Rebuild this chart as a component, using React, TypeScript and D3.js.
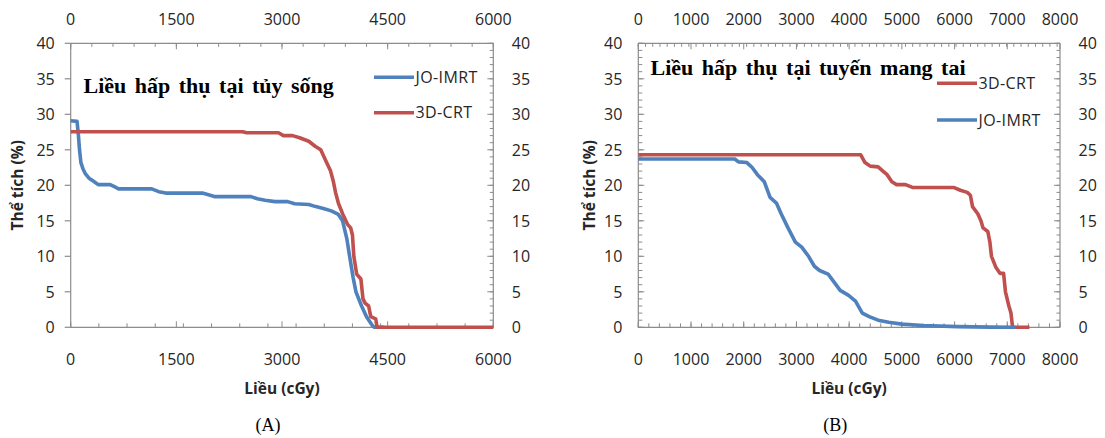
import React from 'react';
import * as d3 from 'd3';

// ---------- DATA ----------
// Panel A: spinal cord (Liều hấp thụ tại tủy sống), dose cGy vs volume %
const imrtA: [number, number][] = [
  [0, 29.1], [90, 29.0], [110, 27], [125, 25], [145, 23.2], [175, 22.3], [210, 21.6], [260, 21.0],
  [320, 20.6], [390, 20.1], [560, 20.1], [620, 19.8], [680, 19.5], [1150, 19.5], [1250, 19.1],
  [1350, 18.9], [1870, 18.9], [1980, 18.6], [2050, 18.4], [2560, 18.4], [2650, 18.1], [2760, 17.9],
  [2900, 17.7], [3080, 17.7], [3180, 17.4], [3380, 17.3], [3480, 17.0], [3600, 16.7], [3700, 16.4],
  [3800, 15.9], [3860, 15.0], [3920, 12.5], [3960, 10.0], [4010, 7.0], [4050, 5.0], [4130, 3.0],
  [4200, 1.5], [4280, 0.3], [4310, 0], [4450, 0],
];
const crtA: [number, number][] = [
  [0, 27.55], [2440, 27.55], [2500, 27.4], [2950, 27.4], [3020, 27.0], [3150, 27.0], [3250, 26.7],
  [3380, 26.2], [3470, 25.5], [3550, 25.0], [3620, 23.5], [3690, 22.0], [3730, 20.5], [3760, 19.0],
  [3800, 17.5], [3860, 16.0], [3930, 14.5], [3975, 14.0], [4000, 13.0], [4020, 10.0], [4060, 7.5],
  [4120, 6.8], [4150, 4.0], [4180, 3.4], [4230, 3.0], [4260, 1.5], [4330, 1.2], [4350, 0], [6000, 0],
];
// Panel B: parotid gland (Liều hấp thụ tại tuyến mang tai)
const crtB: [number, number][] = [
  [0, 24.3], [4220, 24.3], [4300, 23.2], [4400, 22.7], [4550, 22.6], [4640, 22.0], [4720, 21.5],
  [4810, 20.5], [4900, 20.1], [5070, 20.1], [5200, 19.7], [5980, 19.7], [6110, 19.3], [6240, 19.0],
  [6300, 18.6], [6340, 17.0], [6440, 16.0], [6500, 15.0], [6540, 14.0], [6630, 13.5], [6670, 12.0],
  [6700, 10.0], [6780, 8.5], [6860, 7.6], [6930, 7.6], [6965, 5.0], [7030, 3.0], [7070, 2.0],
  [7100, 0], [7420, 0],
];
const imrtB: [number, number][] = [
  [0, 23.7], [1830, 23.7], [1900, 23.3], [2060, 23.2], [2160, 22.5], [2260, 21.5], [2390, 20.5],
  [2440, 19.5], [2500, 18.3], [2620, 17.5], [2710, 16.0], [2840, 14.0], [2980, 12.0], [3100, 11.3],
  [3230, 10.0], [3340, 8.6], [3440, 8.0], [3600, 7.5], [3700, 6.5], [3830, 5.2], [3990, 4.5],
  [4120, 3.7], [4250, 2.0], [4380, 1.5], [4550, 1.0], [4750, 0.7], [5000, 0.45], [5400, 0.25],
  [6050, 0.1], [6700, 0.03], [7150, 0],
];

const xTicksA = [0, 1500, 3000, 4500, 6000];
const xTicksB = [0, 1000, 2000, 3000, 4000, 5000, 6000, 7000, 8000];
const yTicks = [0, 5, 10, 15, 20, 25, 30, 35, 40];

const titleA = 'Liều hấp thụ tại tủy sống';
const titleB = 'Liều hấp thụ tại tuyến mang tai';
const xTitle = 'Liều (cGy)';
const yTitle = 'Thể tích (%)';

const BLUE = '#4F81BD';
const RED = '#C0504D';
const AX = '#8c8c8c';
const TXT = '#262626';
const SANS = "'Open Sans', 'DejaVu Sans', sans-serif";
const SERIF = "'Liberation Serif', 'Times New Roman', serif";

type Series = { name: string; color: string; data: [number, number][] };

function Panel(props: {
  left: number; right: number; top: number; bottom: number;
  xMax: number; xTicks: number[]; xMajor: number;
  topMinor: number; bottomMinor: number; leftMinor: boolean;
  series: Series[]; title: string; titleX: number; titleY: number;
  legendX: number; legendY: number[]; caption: string; yTitleX: number;
}) {
  const { left, right, top, bottom, xMax, xTicks, xMajor, topMinor, bottomMinor, leftMinor, series } = props;
  const x = d3.scaleLinear().domain([0, xMax]).range([left, right]);
  const y = d3.scaleLinear().domain([0, 40]).range([bottom, top]);
  const line = d3.line<[number, number]>().x(d => x(d[0])).y(d => y(d[1]));
  const topMinorT = d3.range(0, xMax + 1e-6, topMinor);
  const botMinorT = d3.range(0, xMax + 1e-6, bottomMinor);
  const majorT = d3.range(0, xMax + 1e-6, xMajor);
  const yMinorT = d3.range(0, 40.001, 1);
  const fs = 16;
  const cx = (left + right) / 2;
  const cy = (top + bottom) / 2;
  return (
    <g>
      {/* frame */}
      <line x1={left} x2={right} y1={top} y2={top} stroke={AX} strokeWidth={1.2} />
      <line x1={left} x2={right} y1={bottom} y2={bottom} stroke={AX} strokeWidth={1.2} />
      <line x1={left} x2={left} y1={top} y2={bottom + 0.6} stroke={AX} strokeWidth={1.2} />
      <line x1={right} x2={right} y1={top} y2={bottom} stroke={AX} strokeWidth={1.2} />
      {/* top ticks */}
      {topMinorT.map((t, i) => (
        <line key={'tm' + i} x1={x(t)} x2={x(t)} y1={top} y2={top + 3.5} stroke={AX} strokeWidth={1} />
      ))}
      {majorT.map((t, i) => (
        <line key={'tM' + i} x1={x(t)} x2={x(t)} y1={top} y2={top + 6} stroke={AX} strokeWidth={1} />
      ))}
      {/* bottom ticks */}
      {botMinorT.map((t, i) => (
        <line key={'bm' + i} x1={x(t)} x2={x(t)} y1={bottom} y2={bottom - 4} stroke={AX} strokeWidth={1} />
      ))}
      {majorT.map((t, i) => (
        <line key={'bM' + i} x1={x(t)} x2={x(t)} y1={bottom} y2={bottom - 6} stroke={AX} strokeWidth={1} />
      ))}
      {/* left ticks */}
      {leftMinor && yMinorT.map((t, i) => (
        <line key={'lm' + i} x1={left} x2={left + 4} y1={y(t)} y2={y(t)} stroke={AX} strokeWidth={1} />
      ))}
      {yTicks.map((t, i) => (
        leftMinor
          ? <line key={'lM' + i} x1={left} x2={left + 6} y1={y(t)} y2={y(t)} stroke={AX} strokeWidth={1} />
          : <line key={'lM' + i} x1={left - 6} x2={left} y1={y(t)} y2={y(t)} stroke={AX} strokeWidth={1.2} />
      ))}
      {/* right ticks */}
      {yMinorT.map((t, i) => (
        <line key={'rm' + i} x1={right - 3.5} x2={right} y1={y(t)} y2={y(t)} stroke={AX} strokeWidth={1} />
      ))}
      {yTicks.map((t, i) => (
        <line key={'rM' + i} x1={right - 6} x2={right} y1={y(t)} y2={y(t)} stroke={AX} strokeWidth={1} />
      ))}
      {/* series */}
      {series.map(s => (
        <path key={s.name} d={line(s.data) || ''} fill="none" stroke={s.color} strokeWidth={3.6}
          strokeLinejoin="round" strokeLinecap="butt" />
      ))}
      {/* tick labels */}
      <g fontFamily={SANS} fontSize={fs} fill={TXT}>
        {xTicks.map(t => (
          <text key={'xt' + t} x={x(t)} y={24.8} textAnchor="middle">{t}</text>
        ))}
        {xTicks.map(t => (
          <text key={'xb' + t} x={x(t)} y={364.6} textAnchor="middle">{t}</text>
        ))}
        {yTicks.map(t => (
          <text key={'yl' + t} x={left - 16} y={y(t) + 5.7} textAnchor="end">{t}</text>
        ))}
        {yTicks.map(t => (
          <text key={'yr' + t} x={right + 18.5} y={y(t) + 5.7} textAnchor="start">{t}</text>
        ))}
      </g>
      {/* axis titles */}
      <text x={cx} y={394} textAnchor="middle" fontFamily={SANS} fontWeight="bold" fontSize={15.5} fill={TXT}>{xTitle}</text>
      <text transform={`translate(${props.yTitleX},${cy}) rotate(-90)`} textAnchor="middle" fontFamily={SANS}
        fontWeight="bold" fontSize={15.5} fill={TXT}>{yTitle}</text>
      {/* chart title */}
      <text x={props.titleX} y={props.titleY} fontFamily={SERIF} fontWeight="bold" fontSize={22}
        wordSpacing={3} fill="#000">{props.title}</text>
      {/* legend */}
      {series.map((s, i) => (
        <g key={'lg' + s.name}>
          <line x1={props.legendX} x2={props.legendX + 40} y1={props.legendY[i]} y2={props.legendY[i]}
            stroke={s.color} strokeWidth={3.6} />
          <text x={props.legendX + 41.5} y={props.legendY[i] + 5.6} fontFamily={SANS} fontSize={16}
            letterSpacing={0.4} fill={TXT}>{s.name}</text>
        </g>
      ))}
      {/* caption */}
      <text x={cx - 14} y={431} textAnchor="middle" fontFamily={SERIF} fontSize={18} fill="#000">{props.caption}</text>
    </g>
  );
}

export default function App() {
  const seriesA: Series[] = [
    { name: 'JO-IMRT', color: BLUE, data: imrtA },
    { name: '3D-CRT', color: RED, data: crtA },
  ];
  const seriesB: Series[] = [
    { name: '3D-CRT', color: RED, data: crtB },
    { name: 'JO-IMRT', color: BLUE, data: imrtB },
  ];
  return (
    <svg width={1105} height={438} style={{ position: 'absolute', left: 0, top: 0, background: '#fff' }}>
      <rect width={1105} height={438} fill="#fff" />
      <Panel left={70.7} right={493.3} top={43.3} bottom={327.3} xMax={6000} xTicks={xTicksA} xMajor={1500}
        topMinor={300} bottomMinor={400} leftMinor={false} series={seriesA} title={titleA}
        titleX={83.5} titleY={93} legendX={374} legendY={[77.3, 112.7]} caption="(A)" yTitleX={22.5} />
      <Panel left={638.3} right={1060} top={43.3} bottom={327.3} xMax={8000} xTicks={xTicksB} xMajor={1000}
        topMinor={137} bottomMinor={200} leftMinor={true} series={seriesB} title={titleB}
        titleX={650.5} titleY={74.5} legendX={937} legendY={[83.3, 120]} caption="(B)" yTitleX={595} />
    </svg>
  );
}
